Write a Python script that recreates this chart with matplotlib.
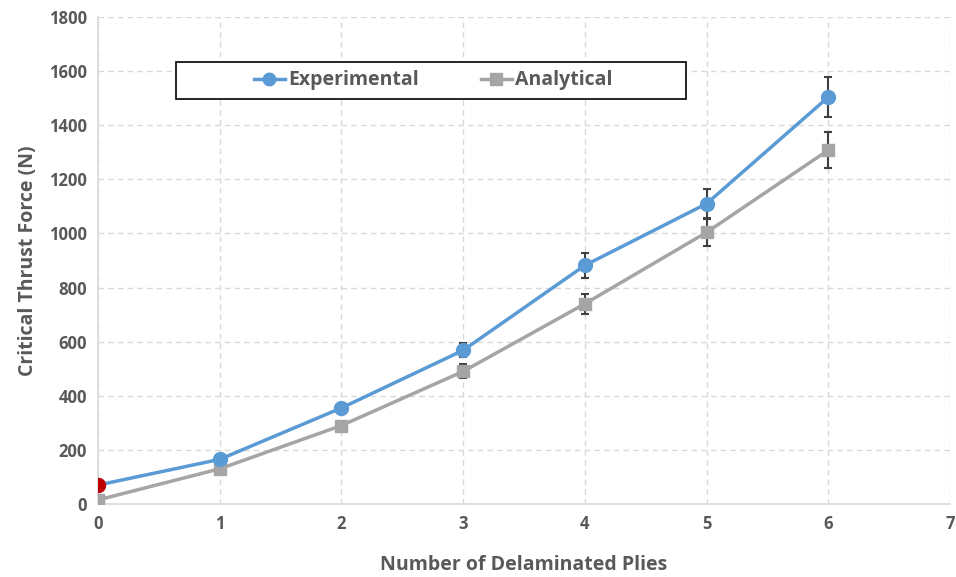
import matplotlib
matplotlib.use("Agg")
import matplotlib.pyplot as plt
from matplotlib.lines import Line2D
from matplotlib.patches import Rectangle

plies = [0, 1, 2, 3, 4, 5, 6]
experimental = [70, 165, 355, 568, 882, 1110, 1504]
experimental_err = [0, 0, 10, 26, 45, 54, 75]
analytical = [15, 130, 290, 490, 740, 1004, 1308]
analytical_err = [0, 0, 8, 26, 37, 49, 67]
xticks = [0, 1, 2, 3, 4, 5, 6, 7]
yticks = [0, 200, 400, 600, 800, 1000, 1200, 1400, 1600, 1800]

blue = "#5B9BD5"
gray = "#A5A5A5"
txt = "#595959"
plt.rcParams['font.family'] = ['Open Sans', 'DejaVu Sans']

fig = plt.figure(figsize=(9.56, 5.77), dpi=100)
ax = fig.add_axes([98/956, 1 - 504/577, (950-98)/956, (504-17)/577])

ax.errorbar(plies, analytical, yerr=analytical_err, color=gray, lw=2.5,
            marker='s', ms=9, ecolor='#404040', elinewidth=1.5, capsize=3,
            capthick=1.5, zorder=3)
ax.errorbar(plies, experimental, yerr=experimental_err, color=blue, lw=2.5,
            marker='o', ms=10, ecolor='#404040', elinewidth=1.5, capsize=3,
            capthick=1.5, zorder=4)
ax.plot(plies[0], experimental[0], 'o', color='#C00000', ms=10, zorder=5)

ax.set_xlim(0, 7)
ax.set_ylim(0, 1800)
ax.set_xticks(xticks)
ax.set_yticks(yticks)
ax.grid(True, ls=(0, (4, 3)), color='#D9D9D9', lw=1)
ax.set_axisbelow(True)
for s in ['top', 'right']:
    ax.spines[s].set_visible(False)
for s in ['left', 'bottom']:
    ax.spines[s].set_color('#D9D9D9')
    ax.spines[s].set_linewidth(1.2)
ax.tick_params(length=0, labelsize=12, labelcolor=txt, pad=8)
for lab in ax.get_xticklabels() + ax.get_yticklabels():
    lab.set_fontweight('bold')

ax.set_xlabel('Number of Delaminated Plies', fontsize=14, fontweight='bold',
              color=txt, labelpad=16)
ax.set_ylabel('Critical Thrust Force (N)', fontsize=14, fontweight='bold',
              color=txt, labelpad=8)

# legend box
fig.patches.append(Rectangle((176/956, 1 - 99/577), (686-176)/956, 37/577,
                             transform=fig.transFigure, facecolor='white',
                             edgecolor='black', lw=1.2, zorder=5))
handles = [Line2D([], [], color=blue, lw=2.5, marker='o', ms=9),
           Line2D([], [], color=gray, lw=2.5, marker='s', ms=8)]
leg = fig.legend(handles, ['Experimental', 'Analytical'],
                 loc='center', bbox_to_anchor=(433/956, 1 - 80.5/577),
                 ncol=2, frameon=False,
                 prop={'weight': 'bold', 'size': 14}, handlelength=1.6,
                 columnspacing=3.2, handletextpad=0.15)
leg.set_zorder(6)
for t in leg.get_texts():
    t.set_color(txt)

fig.savefig('out.png', dpi=100)
